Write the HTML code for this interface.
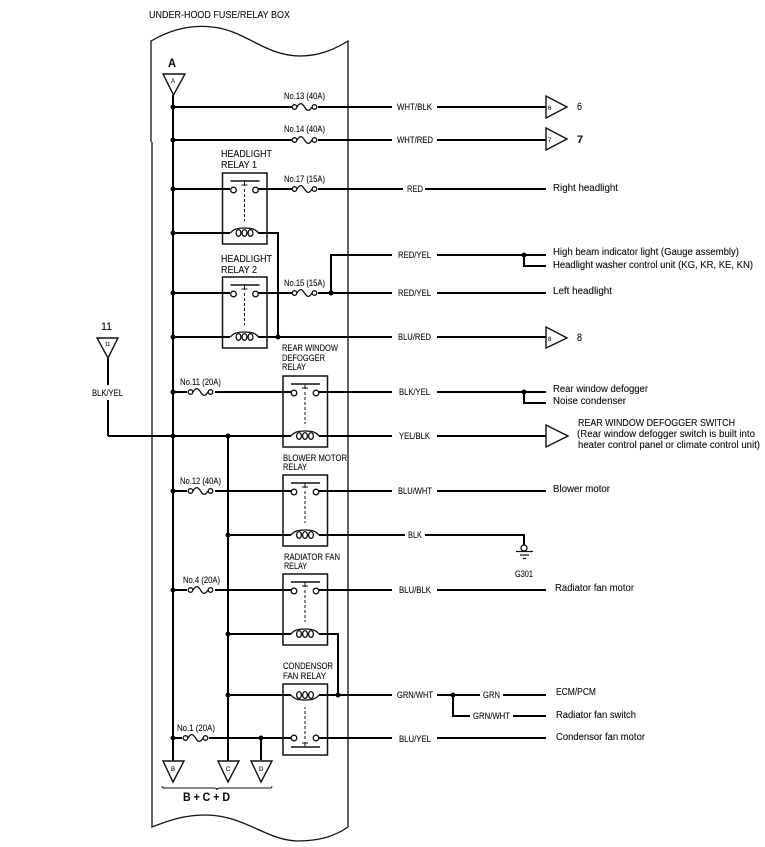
<!DOCTYPE html>
<html><head><meta charset="utf-8"><style>
html,body{margin:0;padding:0;background:#fff;width:765px;height:847px;overflow:hidden}
svg{display:block}
text{font-family:"Liberation Sans",sans-serif;fill:#111;font-size:9px;stroke:#111;stroke-width:.12}
.w{stroke:#000;stroke-width:2;fill:none}
.t{stroke:#111;stroke-width:1.3;fill:none}
.c{stroke:#111;stroke-width:1.3;fill:#fff}
.s{font-size:6px}
.b{font-weight:bold}
</style></head><body>
<svg width="765" height="847" viewBox="0 0 765 847" xmlns="http://www.w3.org/2000/svg">
<defs>
<g id="fuse"><path d="M5 0C8-5 10-4 12.500 0S17 5 20 0" class="t"/><circle cx="2.500" cy="0" r="2.300" class="c"/><circle cx="22.500" cy="0" r="2.300" class="c"/></g>
<g id="relay">
<rect x="0" y="0" width="44.500" height="71" class="t" style="stroke-width:1.500"/>
<path d="M8 8H37" class="t" style="stroke-width:1.500"/>
<path d="M22 8V13M19 12H25" class="t" style="stroke-width:1"/>
<path d="M22 16V48" class="t" stroke-dasharray="3 2" style="stroke-width:1"/>
<circle cx="11" cy="17" r="2.800" class="c"/><circle cx="33" cy="17" r="2.800" class="c"/>
<path d="M8 60C11 56 15 55 22 55S33 56 36 60" class="t"/>
<ellipse cx="16" cy="60" rx="2.400" ry="3.400" class="c"/><ellipse cx="22" cy="60" rx="2.400" ry="3.400" class="c"/><ellipse cx="28" cy="60" rx="2.400" ry="3.400" class="c"/>
</g>
</defs>

<!-- enclosure -->
<path d="M151 142V41C175 27 195 25 212 27C245 30 265 56 300 56C320 56 335 49 348 41V827C335 836 320 841 297 841C265 840 245 815 205 815C185 815 170 820 152 827V142" class="t"/>

<!-- wires -->
<path class="w" d="M173 95V761M228 436V761M261 738V760M108 358V385M108 400V436
M173 107H292M318 107H392M437 107H546
M173 140H292M318 140H392M437 140H546
M173 189H230M258 189H292M318 189H403M425 189H546
M173 233H230M258 233H278V337
M331 293V255H392M437 255H546M524 255V266H546
M173 293H230M258 293H292M318 293H392M437 293H546
M173 337H230M258 337H392M437 337H546
M173 392H187M215 392H291M319 392H392M437 392H546M524 392V403H546
M108 436H291M319 436H392M437 436H546
M173 491H187M215 491H291M319 491H392M437 491H546
M228 535H291M319 535H405M425 535H524V545
M173 590H187M215 590H291M319 590H392M437 590H546
M228 634H291M319 634H338V695
M228 695H291M319 695H392M437 695H480M503 695H546M453 695V716H470M513 716H546
M173 738H182M209 738H291M319 738H392M437 738H546"/>

<!-- junctions -->
<g fill="#000">
<circle cx="173" cy="107" r="2.500"/><circle cx="173" cy="140" r="2.500"/><circle cx="173" cy="189" r="2.500"/><circle cx="173" cy="233" r="2.500"/><circle cx="173" cy="293" r="2.500"/><circle cx="173" cy="337" r="2.500"/><circle cx="173" cy="392" r="2.500"/><circle cx="173" cy="436" r="2.500"/><circle cx="173" cy="491" r="2.500"/><circle cx="173" cy="590" r="2.500"/><circle cx="173" cy="738" r="2.500"/>
<circle cx="228" cy="436" r="2.500"/><circle cx="228" cy="535" r="2.500"/><circle cx="228" cy="634" r="2.500"/><circle cx="228" cy="695" r="2.500"/>
<circle cx="261" cy="738" r="2.500"/><circle cx="278" cy="337" r="2.500"/><circle cx="331" cy="293" r="2.500"/><circle cx="338" cy="695" r="2.500"/>
<circle cx="524" cy="255" r="2.500"/><circle cx="524" cy="392" r="2.500"/><circle cx="453" cy="695" r="2.500"/>
</g>

<!-- fuses -->
<use href="#fuse" x="292" y="107"/><use href="#fuse" x="292" y="140"/><use href="#fuse" x="292" y="189"/><use href="#fuse" x="292" y="293"/>
<use href="#fuse" x="188" y="392"/><use href="#fuse" x="188" y="491"/><use href="#fuse" x="188" y="590"/><use href="#fuse" x="183" y="738"/>

<!-- relays -->
<use href="#relay" x="222.500" y="173"/><use href="#relay" x="222.500" y="277"/>
<use href="#relay" x="283" y="376"/><use href="#relay" x="283" y="475"/><use href="#relay" x="283" y="574"/>
<use href="#relay" transform="translate(283,755) scale(1,-1)"/>

<!-- triangles -->
<g class="t" style="stroke-width:1.400">
<path d="M163 74H185L173.500 95Z"/><path d="M97 338H118L108 358Z"/>
<path d="M163 761H184L173 782Z"/><path d="M218 761H239L228 782Z"/><path d="M251 761H272L261 782Z"/>
<path d="M546 96V118L567 107Z"/><path d="M546 128V150L567 139Z"/><path d="M546 327V348L567 338Z"/><path d="M546 425V447L568 436Z"/>
</g>
<path d="M162 786C162 788 163 788 165 788H214C216 788 217 789 217 790C217 789 218 788 220 788H270C272 788 272 787 272 786" class="t" style="stroke-width:1"/>

<!-- ground -->
<circle cx="524" cy="548" r="3" class="c"/>
<path d="M516 551.500H533M520 555H529M523 558.500H526" class="t"/>

<!-- labels -->
<text x="149" y="18" textLength="141" lengthAdjust="spacingAndGlyphs" style="font-size:10px">UNDER-HOOD FUSE/RELAY BOX</text>
<text x="168" y="67" class="b" style="font-size:12px" textLength="8" lengthAdjust="spacingAndGlyphs">A</text>
<text x="171" y="83" class="s">A</text>
<text x="101" y="330" style="font-size:11px" textLength="11" lengthAdjust="spacingAndGlyphs">11</text>
<text x="105" y="346" class="s" style="font-size:5px">11</text>
<text x="92" y="396" textLength="31" lengthAdjust="spacingAndGlyphs">BLK/YEL</text>

<text x="284" y="99" textLength="41" lengthAdjust="spacingAndGlyphs">No.13 (40A)</text>
<text x="284" y="132" textLength="41" lengthAdjust="spacingAndGlyphs">No.14 (40A)</text>
<text x="284" y="182" textLength="41" lengthAdjust="spacingAndGlyphs">No.17 (15A)</text>
<text x="284" y="286" textLength="41" lengthAdjust="spacingAndGlyphs">No.15 (15A)</text>
<text x="180" y="385" textLength="41" lengthAdjust="spacingAndGlyphs">No.11 (20A)</text>
<text x="180" y="484" textLength="41" lengthAdjust="spacingAndGlyphs">No.12 (40A)</text>
<text x="183" y="583" textLength="37" lengthAdjust="spacingAndGlyphs">No.4 (20A)</text>
<text x="177" y="731" textLength="38" lengthAdjust="spacingAndGlyphs">No.1 (20A)</text>

<text x="221" y="157" textLength="51" lengthAdjust="spacingAndGlyphs" style="font-size:10.500px">HEADLIGHT</text>
<text x="221" y="168" textLength="36" lengthAdjust="spacingAndGlyphs" style="font-size:10.500px">RELAY 1</text>
<text x="221" y="262" textLength="51" lengthAdjust="spacingAndGlyphs" style="font-size:10.500px">HEADLIGHT</text>
<text x="221" y="273" textLength="36" lengthAdjust="spacingAndGlyphs" style="font-size:10.500px">RELAY 2</text>
<text x="282" y="351" textLength="56" lengthAdjust="spacingAndGlyphs" style="font-size:9.500px">REAR WINDOW</text>
<text x="282" y="361" textLength="43" lengthAdjust="spacingAndGlyphs" style="font-size:9.500px">DEFOGGER</text>
<text x="282" y="370" textLength="24" lengthAdjust="spacingAndGlyphs" style="font-size:9.500px">RELAY</text>
<text x="283" y="461" textLength="64" lengthAdjust="spacingAndGlyphs" style="font-size:9.500px">BLOWER MOTOR</text>
<text x="283" y="470" textLength="24" lengthAdjust="spacingAndGlyphs" style="font-size:9.500px">RELAY</text>
<text x="284" y="560" textLength="56" lengthAdjust="spacingAndGlyphs" style="font-size:9.500px">RADIATOR FAN</text>
<text x="284" y="569" textLength="23" lengthAdjust="spacingAndGlyphs" style="font-size:9.500px">RELAY</text>
<text x="283" y="669" textLength="50" lengthAdjust="spacingAndGlyphs" style="font-size:9.500px">CONDENSOR</text>
<text x="283" y="679" textLength="43" lengthAdjust="spacingAndGlyphs" style="font-size:9.500px">FAN RELAY</text>

<text x="171" y="771" class="s">B</text><text x="226" y="771" class="s">C</text><text x="259" y="771" class="s">D</text>
<text x="183" y="801" class="b" style="font-size:12px" textLength="47" lengthAdjust="spacingAndGlyphs">B + C + D</text>

<text x="397" y="110" textLength="35" lengthAdjust="spacingAndGlyphs">WHT/BLK</text>
<text x="397" y="143" textLength="36" lengthAdjust="spacingAndGlyphs">WHT/RED</text>
<text x="407" y="192" textLength="16" lengthAdjust="spacingAndGlyphs">RED</text>
<text x="398" y="258" textLength="33" lengthAdjust="spacingAndGlyphs">RED/YEL</text>
<text x="398" y="296" textLength="33" lengthAdjust="spacingAndGlyphs">RED/YEL</text>
<text x="398" y="340" textLength="33" lengthAdjust="spacingAndGlyphs">BLU/RED</text>
<text x="399" y="395" textLength="31" lengthAdjust="spacingAndGlyphs">BLK/YEL</text>
<text x="399" y="439" textLength="31" lengthAdjust="spacingAndGlyphs">YEL/BLK</text>
<text x="398" y="494" textLength="34" lengthAdjust="spacingAndGlyphs">BLU/WHT</text>
<text x="408" y="538" textLength="14" lengthAdjust="spacingAndGlyphs">BLK</text>
<text x="399" y="593" textLength="32" lengthAdjust="spacingAndGlyphs">BLU/BLK</text>
<text x="397" y="698" textLength="36" lengthAdjust="spacingAndGlyphs">GRN/WHT</text>
<text x="399" y="742" textLength="32" lengthAdjust="spacingAndGlyphs">BLU/YEL</text>
<text x="483" y="698" textLength="17" lengthAdjust="spacingAndGlyphs">GRN</text>
<text x="473" y="719" textLength="37" lengthAdjust="spacingAndGlyphs">GRN/WHT</text>

<text x="548" y="110" class="s">6</text><text x="548" y="142" class="s">7</text><text x="548" y="341" class="s">8</text>
<text x="577" y="110" style="font-size:11px" textLength="5" lengthAdjust="spacingAndGlyphs">6</text>
<text x="577" y="143" class="b" style="font-size:11px">7</text>
<text x="577" y="341" style="font-size:11px" textLength="5" lengthAdjust="spacingAndGlyphs">8</text>

<text x="553" y="191" textLength="65" lengthAdjust="spacingAndGlyphs" style="font-size:10px">Right headlight</text>
<text x="553" y="255" textLength="186" lengthAdjust="spacingAndGlyphs" style="font-size:10px">High beam indicator light (Gauge assembly)</text>
<text x="553" y="268" textLength="200" lengthAdjust="spacingAndGlyphs" style="font-size:10px">Headlight washer control unit (KG, KR, KE, KN)</text>
<text x="553" y="294" textLength="59" lengthAdjust="spacingAndGlyphs" style="font-size:10px">Left headlight</text>
<text x="553" y="392" textLength="95" lengthAdjust="spacingAndGlyphs" style="font-size:10px">Rear window defogger</text>
<text x="553" y="404" textLength="73" lengthAdjust="spacingAndGlyphs" style="font-size:10px">Noise condenser</text>
<text x="578" y="426" textLength="157" lengthAdjust="spacingAndGlyphs" style="font-size:10px">REAR WINDOW DEFOGGER SWITCH</text>
<text x="577" y="437" textLength="178" lengthAdjust="spacingAndGlyphs" style="font-size:10px">(Rear window defogger switch is built into</text>
<text x="578" y="448" textLength="182" lengthAdjust="spacingAndGlyphs" style="font-size:10px">heater control panel or climate control unit)</text>
<text x="553" y="492" textLength="57" lengthAdjust="spacingAndGlyphs" style="font-size:10px">Blower motor</text>
<text x="555" y="591" textLength="79" lengthAdjust="spacingAndGlyphs" style="font-size:10px">Radiator fan motor</text>
<text x="556" y="695" textLength="40" lengthAdjust="spacingAndGlyphs" style="font-size:10px">ECM/PCM</text>
<text x="556" y="718" textLength="80" lengthAdjust="spacingAndGlyphs" style="font-size:10px">Radiator fan switch</text>
<text x="556" y="740" textLength="89" lengthAdjust="spacingAndGlyphs" style="font-size:10px">Condensor fan motor</text>
<text x="515" y="577" textLength="18" lengthAdjust="spacingAndGlyphs">G301</text>
</svg>
</body></html>
